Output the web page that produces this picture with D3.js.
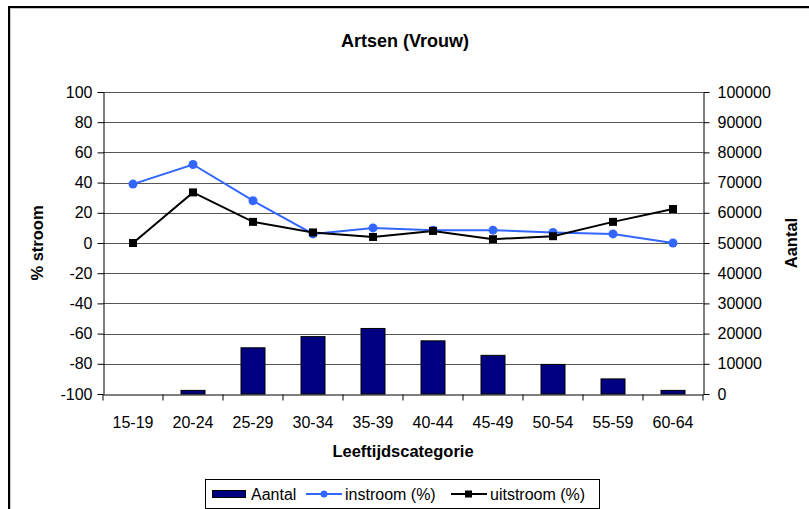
<!DOCTYPE html>
<html>
<head>
<meta charset="utf-8">
<script src="https://cdn.jsdelivr.net/npm/d3@7"></script>
<style>
  body{margin:0;background:#fff}
  svg{display:block;font-family:"Liberation Sans",Arial,sans-serif}
</style>
</head>
<body>
<svg id="chart" width="809" height="509"></svg>
<script>
'use strict'

const categories = ["15-19","20-24","25-29","30-34","35-39","40-44","45-49","50-54","55-59","60-64"]
const aantal = [0,1200,15300,19000,21700,17600,12800,9800,5000,1200]
const instroom = [39,52,28,6,10,8.5,8.5,7,6,0]
const uitstroom = [0,33.5,14,7,4,8,2.5,4.5,14,22.5]
const leftTicks = [-100,-80,-60,-40,-20,0,20,40,60,80,100]
const rightTicks = [0,10000,20000,30000,40000,50000,60000,70000,80000,90000,100000]

const svg = d3.select("#chart")
const m = {left:103,right:703,top:92,bottom:394}

// frame round the chart
svg.append("rect").attr("x",10).attr("y",8).attr("width",820).attr("height",520)
  .attr("fill","none").attr("stroke","#c8c8c8").attr("stroke-width",2)
svg.append("rect").attr("x",9).attr("y",7).attr("width",820).attr("height",520)
  .attr("fill","none").attr("stroke","#000").attr("stroke-width",2)

const x = d3.scaleBand().domain(categories).range([m.left,m.right])
const yL = d3.scaleLinear().domain([-100,100]).range([m.bottom,m.top])
const yR = d3.scaleLinear().domain([0,100000]).range([m.bottom,m.top])

// gridlines
svg.append("g").selectAll("line").data(leftTicks.filter(d=>d>-100)).join("line")
  .attr("x1",m.left).attr("x2",m.right)
  .attr("y1",d=>Math.round(yL(d))+0.5).attr("y2",d=>Math.round(yL(d))+0.5)
  .attr("stroke","#555").attr("stroke-width",1)

// bars
const bw = x.bandwidth()*0.4
svg.append("g").selectAll("rect").data(aantal.map((v,i)=>({c:categories[i],v})).filter(d=>d.v>0)).join("rect")
  .attr("x",d=>x(d.c)+(x.bandwidth()-bw)/2)
  .attr("y",d=>yR(d.v))
  .attr("width",bw)
  .attr("height",d=>yR(0)-yR(d.v))
  .attr("fill","#000080").attr("stroke","#000").attr("stroke-width",1)

// axes
const fontSize = "16px"
const left = svg.append("g").attr("transform",`translate(${m.left+0.5},0)`)
  .call(d3.axisLeft(yL).tickValues(leftTicks).tickFormat(d=>String(d)).tickSize(6).tickSizeOuter(0).tickPadding(5))
const right = svg.append("g").attr("transform",`translate(${m.right+0.5},0)`)
  .call(d3.axisRight(yR).tickValues(rightTicks).tickFormat(d=>String(d)).tickSize(6).tickSizeOuter(0).tickPadding(8))
const bottom = svg.append("g").attr("transform",`translate(0,${m.bottom+0.5})`)
  .call(d3.axisBottom(x).tickSize(0))
bottom.selectAll("g.tick").append("line").attr("x1",-x.bandwidth()/2).attr("x2",-x.bandwidth()/2)
  .attr("y1",0).attr("y2",6).attr("stroke","#000")
bottom.append("line").attr("x1",m.right).attr("x2",m.right).attr("y1",0).attr("y2",6).attr("stroke","#000")

;[left,right,bottom].forEach(g=>{
  g.selectAll("text").attr("font-size",fontSize).attr("fill","#000")
    .attr("font-family","\"Liberation Sans\",Arial,sans-serif")
  g.selectAll("line,path").attr("stroke","#000")
})
bottom.selectAll("text").attr("dy","0.32em").attr("y",28)

// lines
const line = d3.line().x((d,i)=>x(categories[i])+x.bandwidth()/2).y(d=>yL(d))
svg.append("path").datum(instroom).attr("d",line).attr("fill","none")
  .attr("stroke","#3366ff").attr("stroke-width",2)
svg.append("path").datum(uitstroom).attr("d",line).attr("fill","none")
  .attr("stroke","#000").attr("stroke-width",2)
svg.append("g").selectAll("circle").data(instroom).join("circle")
  .attr("cx",(d,i)=>x(categories[i])+x.bandwidth()/2).attr("cy",d=>yL(d))
  .attr("r",4.5).attr("fill","#3366ff")
svg.append("g").selectAll("rect").data(uitstroom).join("rect")
  .attr("x",(d,i)=>x(categories[i])+x.bandwidth()/2-4).attr("y",d=>yL(d)-4)
  .attr("width",8).attr("height",8).attr("fill","#000")

// titles
svg.append("text").attr("x",405).attr("y",47).attr("text-anchor","middle")
  .attr("font-size","18px").attr("font-weight","bold").text("Artsen (Vrouw)")
svg.append("text").attr("x",403).attr("y",457).attr("text-anchor","middle")
  .attr("font-size","16.5px").attr("font-weight","bold").text("Leeftijdscategorie")
svg.append("text").attr("transform","translate(43,243) rotate(-90)").attr("text-anchor","middle")
  .attr("font-size","16.5px").attr("font-weight","bold").text("% stroom")
svg.append("text").attr("transform","translate(797,243) rotate(-90)").attr("text-anchor","middle")
  .attr("font-size","16.5px").attr("font-weight","bold").text("Aantal")

// legend
const lg = svg.append("g").attr("font-size","16px")
lg.append("rect").attr("x",205.5).attr("y",479.5).attr("width",394).attr("height",29)
  .attr("fill","#fff").attr("stroke","#000")
lg.append("rect").attr("x",212.5).attr("y",490.5).attr("width",33).attr("height",7)
  .attr("fill","#000080").attr("stroke","#000")
lg.append("text").attr("x",251).attr("y",500).text("Aantal")
lg.append("line").attr("x1",306).attr("x2",342).attr("y1",494).attr("y2",494)
  .attr("stroke","#3366ff").attr("stroke-width",2)
lg.append("circle").attr("cx",324).attr("cy",494).attr("r",3.5).attr("fill","#3366ff")
lg.append("text").attr("x",345).attr("y",500).text("instroom (%)")
lg.append("line").attr("x1",451).attr("x2",487).attr("y1",494).attr("y2",494)
  .attr("stroke","#000").attr("stroke-width",2)
lg.append("rect").attr("x",465).attr("y",490.5).attr("width",7).attr("height",7).attr("fill","#000")
lg.append("text").attr("x",490).attr("y",500).text("uitstroom (%)")
</script>
</body>
</html>
